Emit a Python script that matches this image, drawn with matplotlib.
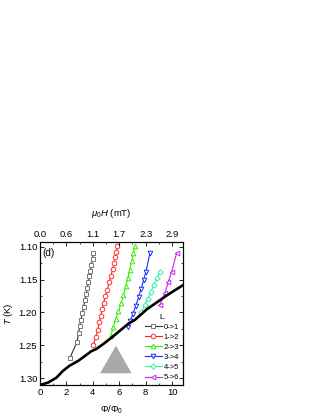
import matplotlib
matplotlib.use('Agg')
import matplotlib.pyplot as plt
from matplotlib.patches import Polygon

plt.rcParams['font.family'] = ['Liberation Sans', 'DejaVu Sans']
plt.rcParams['mathtext.fontset'] = 'custom'
plt.rcParams['mathtext.rm'] = 'Liberation Sans'
plt.rcParams['mathtext.it'] = 'Liberation Sans:italic'
plt.rcParams['font.size'] = 6.5

# phase boundary (black line)
phi_b = [0.0, 0.6, 1.24, 1.74, 2.25, 2.88, 3.38, 3.89, 4.27, 4.9, 5.5, 6.7, 7.2, 8.1, 9.6, 10.85]
t_b = [1.3105, 1.307, 1.2995, 1.289, 1.281, 1.274, 1.2667, 1.259, 1.2556, 1.2465, 1.237,
       1.217, 1.211, 1.195, 1.174, 1.158]

# vortex transitions L -> L+1
phi_01 = [4.05, 3.98, 3.90, 3.82, 3.74, 3.66, 3.58, 3.50, 3.41, 3.31, 3.21, 3.10,
          3.00, 2.92, 2.80, 2.25]
t_01 = [1.109, 1.118, 1.127, 1.136, 1.145, 1.154, 1.163, 1.172, 1.181, 1.191, 1.201, 1.211,
        1.221, 1.232, 1.245, 1.270]

phi_12 = [5.86, 5.78, 5.70, 5.60, 5.50, 5.38, 5.25, 5.10, 4.96, 4.82, 4.70, 4.60,
          4.50, 4.38, 4.22, 4.02]
t_12 = [1.098, 1.107, 1.116, 1.125, 1.134, 1.144, 1.154, 1.165, 1.175, 1.185,
        1.195, 1.205, 1.215, 1.226, 1.238, 1.250]

phi_23 = [7.20, 7.08, 6.94, 6.80, 6.66, 6.50, 6.32, 6.14, 5.94, 5.74, 5.54, 5.38]
t_23 = [1.098, 1.109, 1.122, 1.135, 1.147, 1.160, 1.174, 1.186, 1.198, 1.210,
        1.222, 1.236]

phi_34 = [8.33, 8.02, 7.84, 7.66, 7.46, 7.25, 7.04, 6.84, 6.68]
t_34 = [1.109, 1.138, 1.151, 1.164, 1.177, 1.190, 1.202, 1.213, 1.222]

phi_45 = [9.07, 8.85, 8.62, 8.40, 8.16, 7.92, 7.68]
t_45 = [1.139, 1.148, 1.158, 1.169, 1.179, 1.189, 1.200]

phi_56 = [10.35, 9.97, 9.72, 9.47, 9.09]
t_56 = [1.109, 1.138, 1.153, 1.170, 1.188]

series = [
    ('0->1', phi_01, t_01, 's', '#333333', '#777777'),
    ('1->2', phi_12, t_12, 'o', '#ff2020', '#ff3030'),
    ('2->3', phi_23, t_23, '^', '#33ee00', '#33ee00'),
    ('3->4', phi_34, t_34, 'v', '#1a2cff', '#1a2cff'),
    ('4->5', phi_45, t_45, 'D', '#33f0a0', '#33f0a0'),
    ('5->6', phi_56, t_56, '<', '#cc22ee', '#cc22ee'),
]

top_ticks = [0, 2, 4, 6, 8, 10]
top_labels = ['0.0', '0.6', '1.1', '1.7', '2.3', '2.9']

fig = plt.figure(figsize=(3.22, 4.16), dpi=100)
ax = fig.add_axes([40 / 322, 1 - 385 / 416, 143 / 322, 143 / 416])

for name, x, y, m, lc, mc in series:
    ax.plot(x, y, '-', color=lc, lw=0.8, marker=m, ms=3.3 if m != 'D' else 2.7,
            mfc='white', mec=mc, mew=0.7, label=name)

ax.plot(phi_b, t_b, color='k', lw=1.9, zorder=5)

tri = Polygon([[0.531, 0.275], [0.42, 0.082], [0.641, 0.082]], closed=True,
              transform=ax.transAxes, facecolor='#a9a9a9', edgecolor='none')
ax.add_patch(tri)

ax.set_xlim(0, 10.83)
ax.set_ylim(1.3106, 1.0925)
ax.set_xticks([0, 2, 4, 6, 8, 10])
ax.set_xticks([1, 3, 5, 7, 9], minor=True)
ax.set_yticks([1.10, 1.15, 1.20, 1.25, 1.30])
ax.set_yticks([1.125, 1.175, 1.225, 1.275], minor=True)
ax.set_yticklabels(['1.10', '1.15', '1.20', '1.25', '1.30'])
ax.tick_params(which='both', direction='in', right=True, labelsize=6.8, pad=2)
ax.tick_params(which='major', length=3, width=0.6)
ax.tick_params(which='minor', length=1.6, width=0.5)
ax.set_xlabel(r'$\Phi/\Phi_0$', fontsize=6.8, labelpad=5)
ax.set_ylabel(r'$T$ (K)', fontsize=6.8, labelpad=3)
for s in ax.spines.values():
    s.set_linewidth(0.8)

axt = ax.twiny()
axt.set_xlim(ax.get_xlim())
axt.set_xticks(top_ticks)
axt.set_xticks([1, 3, 5, 7, 9], minor=True)
axt.set_xticklabels(top_labels)
axt.tick_params(which='both', direction='in', labelsize=6.8, pad=2)
axt.tick_params(which='major', length=3, width=0.6)
axt.tick_params(which='minor', length=1.6, width=0.5)
axt.set_xlabel(r'$\mu_0H$ (mT)', fontsize=6.8, labelpad=10)

ax.text(0.02, 0.955, '(d)', transform=ax.transAxes, fontsize=7.2, va='top', ha='left')

leg = ax.legend(loc='lower right', title='L', fontsize=5.5, title_fontsize=6,
                frameon=False, handlelength=2.2, handletextpad=0.3, labelspacing=0.35,
                borderaxespad=0.3, borderpad=0.2)

fig.savefig('out.png', dpi=100)
